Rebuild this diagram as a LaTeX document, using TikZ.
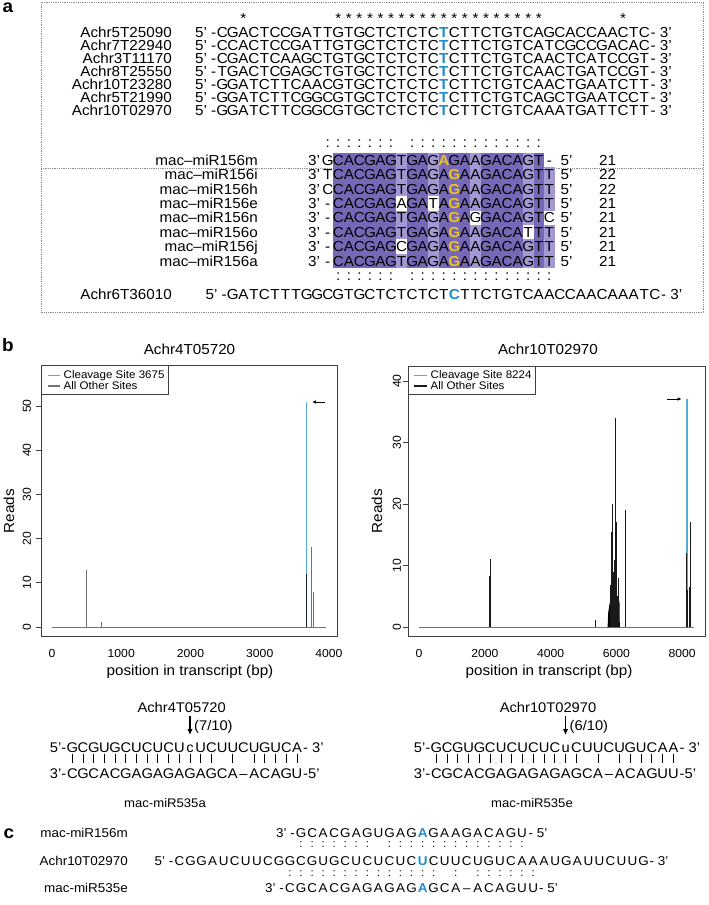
\documentclass[tikz,border=0pt]{standalone}
\usepackage{fontspec}
\setmainfont{Liberation Sans}[FakeStretch=1.05]
\usetikzlibrary{arrows.meta}
\definecolor{pdark}{RGB}{119,103,183}
\definecolor{plight}{RGB}{163,152,212}
\definecolor{ylw}{RGB}{238,194,30}
\definecolor{tblue}{RGB}{30,140,200}
\definecolor{cleave}{RGB}{85,170,210}
\newcommand\fs[1]{\fontsize{#1}{#1}\selectfont}
\newcommand\B[1]{\textcolor{tblue}{\textbf{#1}}}
\newcommand\Y[1]{\textcolor{ylw}{\textbf{#1}}}
\makeatletter
\newcount\sq@i
\def\sq@end{\sq@end}
\def\sq@dot{.}
\newcommand\seqrow[5][]{\def\sq@style{#1}\def\sq@x{#2}\def\sq@y{#3}\def\sq@p{#4}\sq@i=0 \sq@scan#5\sq@end}
\def\sq@scan#1{\ifx\sq@end#1\else\sq@put{#1}\advance\sq@i by 1 \expandafter\sq@scan\fi}
\def\sq@put#1{\def\sq@tmp{#1}\ifx\sq@tmp\sq@dot\else
  \node[sq,\sq@style] at ({\sq@x+(\the\sq@i+0.5)*\sq@p},\sq@y) {#1};\fi}
\makeatother
\tikzset{
  sq/.style={inner sep=0pt, anchor=base, font=\fs{14.5}},
  lab/.style={inner sep=0pt, font=\fs{14.5}},
  labc/.style={inner sep=0pt, font=\fs{12.8}},
  sqc/.style={font=\fs{12.8}},
  colc/.style={font=\fs{11}},
  sqb/.style={font=\fs{14}},
  labb/.style={inner sep=0pt, font=\fs{14}},
  plabel/.style={inner sep=0pt, font=\fs{18}\bfseries},
  dotbox/.style={draw=black!45, line width=0.6pt, dash pattern=on 0.9pt off 0.9pt},
  frame/.style={draw=black!75, line width=0.8pt},
  ticklab/.style={inner sep=0pt, font=\fs{11.6}},
  leg/.style={inner sep=0pt, font=\fs{11}, anchor=west},
  othersL/.style={draw=black!55, line width=0.8pt},
  othersR/.style={draw=black!90, line width=0.8pt},
  cleaveline/.style={draw=cleave, line width=1.1pt},
  pair/.style={line width=1pt},
}
\begin{document}
\begin{tikzpicture}[x=1pt,y=-1pt]
\useasboundingbox (0,0) rectangle (709,905);
\fill[white] (0,0) rectangle (709,905);

% ================= panel a =================
\node[plabel] (la) at (8,8) {a};
\draw[dotbox] (41,2) rectangle (703,312);
\draw[dotbox] (41,168) -- (703,168);

% highlight block
\fill[pdark] (333.05,153) rectangle (544.05,167.4);
\fill[pdark] (333.05,167.4) rectangle (554.6,268.2);
\foreach \c in {17,20,24,29} \fill[plight] ({217+10.55*\c},153) rectangle ++(10.55,115.2);
\fill[plight] (544.05,167.4) rectangle (554.6,268.2);
\foreach \c/\k in {17/3,20/3,24/4,31/4,29/5,17/6}
  \fill[white] ({217+10.55*\c},{153+14.4*\k}) rectangle ++(10.55,14.4);

% conservation stars
\seqrow{217}{23}{10.55}{..*........********************.......*}

% target rows
\foreach \n/\k in {Achr5T25090/0,Achr7T22940/1,Achr3T11170/2,Achr8T25550/3,Achr10T23280/4,Achr5T21990/5,Achr10T02970/6}{
  \node[lab, anchor=base east] (t\k) at (172,{37.7+12.9*\k}) {\n};
  \node[lab, anchor=base east] at (216.5,{37.7+12.9*\k}) {5' -};
  \node[lab, anchor=base west] at (650.5,{37.7+12.9*\k}) {- 3'};
}
\seqrow{217}{37.7}{10.55}{CGACTCCGATT GTGCTCTCTC {\B T} CTTCTGTCA GCACCAACTC}
\seqrow{217}{50.6}{10.55}{CCACTCCGATT GTGCTCTCTC {\B T} CTTCTGTCA TCGCCGACAC}
\seqrow{217}{63.5}{10.55}{CGACTCAAGCT GTGCTCTCTC {\B T} CTTCTGTCA ACTCATCCGT}
\seqrow{217}{76.4}{10.55}{TGACTCGAGCT GTGCTCTCTC {\B T} CTTCTGTCA ACTGATCCGT}
\seqrow{217}{89.3}{10.55}{GGATCTTCAAC GTGCTCTCTC {\B T} CTTCTGTCA ACTGAATCTT}
\seqrow{217}{102.2}{10.55}{GGATCTTCGGC GTGCTCTCTC {\B T} CTTCTGTCA GCTGAATCCT}
\seqrow{217}{115.1}{10.55}{GGATCTTCGGC GTGCTCTCTC {\B T} CTTCTGTCA AATGATTCTT}

% pairing colons
\seqrow{217}{147}{10.55}{.......... ::::::: . :::::::::::::}

% miRNA rows
\foreach \n/\len/\k in {m/21/0,i/22/1,h/22/2,e/21/3,n/21/4,o/21/5,j/21/6,a/21/7}{
  \node[lab, anchor=base east] (mi\k) at (258,{165.3+14.4*\k}) {mac–miR156\n};
  \node[lab, anchor=base] at (314,{165.3+14.4*\k}) {3'};
  \node[lab, anchor=base] at (566.5,{165.3+14.4*\k}) {5'};
  \node[lab, anchor=base] at (607.5,{165.3+14.4*\k}) {\len};
}
\seqrow{322.5}{165.3}{10.55}{G CACGAGTGAG {\Y A} GAAGACAGT -}
\seqrow{322.5}{179.7}{10.55}{T CACGAGTGAGA {\Y G} AAGACAGTT}
\seqrow{322.5}{194.1}{10.55}{C CACGAGTGAGA {\Y G} AAGACAGTT}
\seqrow{322.5}{208.5}{10.55}{- CACGAGAGATA {\Y G} AAGACAGTT}
\seqrow{322.5}{222.9}{10.55}{- CACGAGTGAGA {\Y G} AGGACAGTC}
\seqrow{322.5}{237.3}{10.55}{- CACGAGTGAGA {\Y G} AAGACATTT}
\seqrow{322.5}{251.7}{10.55}{- CACGAGCGAGA {\Y G} AAGACAGTT}
\seqrow{322.5}{266.1}{10.55}{- CACGAGTGAGA {\Y G} AAGACAGTT}

\seqrow{217}{280}{10.55}{........... :::::: . ::::::::::::::}
\node[lab, anchor=base east] (t6b) at (172,299) {Achr6T36010};
\node[lab, anchor=base east] at (227,299) {5' -};
\seqrow{227.55}{299}{10.55}{GATCTTTGGC GTGCTCTCTCT {\B C} TTCTGTCAACCAACAAATC}
\node[lab, anchor=base west] at (661,299) {- 3'};

% ================= panel b =================
\node[plabel] (lb) at (8,345) {b};

% ---- left plot ----
\node[lab] (titL) at (189.5,349) {Achr4T05720};
\draw[frame] (41,365) rectangle (337,636);
\foreach \r in {0,10,...,50}{
  \draw[frame] (41,{627-4.42*\r}) -- ++(-5,0);
  \node[ticklab, rotate=90] at (27,{627-4.42*\r}) {\r};
}
\foreach \p in {0,1000,...,4000}
  \node[ticklab] at ({52+0.06925*\p},653) {\p};
\node[lab, rotate=90] (readsL) at (9,511) {Reads};
\node[lab] (xlabL) at (190,672) {position in transcript (bp)};
\draw[frame, line width=0.6pt] (41,365) rectangle (168,394);
\draw[cleaveline, line width=1.2pt] (48,375.7) -- (60,375.7);
\draw[othersL, line width=1.2pt] (48,386) -- (60,386);
\node[leg] (legL1) at (63.5,375.7) {Cleavage Site 3675};
\node[leg] (legL2) at (63.5,386) {All Other Sites};
\draw[othersL] (52,627) -- (326,627);
\draw[othersL] (86,627) -- ++(0,{-4.42*13});
\draw[othersL] (101,627) -- ++(0,-5);
\draw[cleaveline] (306.9,627) -- ++(0,{-4.42*51});
\draw[draw=black!80!cleave, line width=0.8pt] (306,627) -- ++(0,{-4.42*12});
\draw[othersL] (311.7,627) -- ++(0,{-4.42*18});
\draw[othersL] (313.4,627) -- ++(0,{-4.42*8});
\draw[-{Latex[length=4pt,width=3.5pt]}, line width=0.9pt] (325,402) -- (312,402);

% ---- right plot ----
\node[lab] (titR) at (548,349) {Achr10T02970};
\draw[frame] (408,366) rectangle (705,636);
\foreach \r in {0,10,...,40}{
  \draw[frame] (408,{627-6.15*\r}) -- ++(-5,0);
  \node[ticklab, rotate=90] at (397,{627-6.15*\r}) {\r};
}
\foreach \p in {0,2000,...,8000}
  \node[ticklab] at ({419+0.0329*\p},653) {\p};
\node[lab, rotate=90] (readsR) at (377,511) {Reads};
\node[lab] (xlabR) at (549,672) {position in transcript (bp)};
\draw[frame, line width=0.6pt] (408,366) rectangle (535,394);
\draw[cleaveline, line width=1.2pt] (414,375.7) -- (427,375.7);
\draw[othersR, line width=1.2pt] (414,386) -- (427,386);
\node[leg] (legR1) at (430.5,375.7) {Cleavage Site 8224};
\node[leg] (legR2) at (430.5,386) {All Other Sites};
\draw[othersL] (419,627) -- (694,627);
\draw[othersR] (489.8,627) -- ++(0,{-6.15*8.3});
\draw[othersR] (490.7,627) -- ++(0,{-6.15*11});
\draw[othersR] (595.7,627) -- ++(0,-7);
\fill[black] (607.6,627) -- (608.2,613) -- (609.5,604) -- (612,599) -- (618.5,597) -- (619.5,603) -- (619.8,627) -- cycle;
\foreach \x/\r in {610/6.8,611.7/15.4,612.3/20,613.3/9,614/10.9,615/21,615.7/34,616.7/17,617.3/5,618.3/8}
  \draw[othersR] (\x,627) -- ++(0,{-6.15*\r});
\draw[othersR] (625,627) -- ++(0,{-6.15*19});
\draw[cleaveline] (687,627) -- ++(0,{-6.15*37});
\draw[othersR] (686,627) -- ++(0,{-6.15*12});
\draw[othersR] (687.8,627) -- ++(0,{-6.15*6});
\draw[othersR] (689.4,627) -- ++(0,{-6.15*6.5});
\draw[othersR] (690.2,627) -- ++(0,{-6.15*17});
\draw[-{Latex[length=4pt,width=3.5pt]}, line width=0.9pt] (666.7,399) -- (681.7,399);

% ---- duplex left ----
\node[labb] (dL) at (181.7,707) {Achr4T05720};
\draw[-{Latex[length=6pt,width=5.5pt]}, line width=1.6pt] (190,716) -- (190,735);
\node[labb, anchor=west] (fracL) at (194,727) {(7/10)};
\node[labb, anchor=base east] at (66.5,752) {5'-};
\seqrow[sqb]{67}{752}{10.7}{GCGUGCUCUCU c UCUUCUGUCA}
\node[labb, anchor=base west] at (303,752) {- 3'};
\foreach \c in {0,...,13,15,17,18,19,20,21}
  \draw[pair] ({67+10.7*(\c+0.5)},753.5) -- ++(0,9);
\node[labb, anchor=base east] at (66.5,778) {3'-};
\seqrow[sqb]{67}{778}{10.7}{CGCACGAGAGAGAGCA – ACAGU}
\node[labb, anchor=base west] at (303,778) {-5'};
\node[labb, font=\fs{12.5}] (mL) at (165,803) {mac-miR535a};

% ---- duplex right ----
\node[labb] (dR) at (548,707) {Achr10T02970};
\draw[-{Latex[length=6pt,width=5.5pt]}, line width=1.6pt] (565.5,716) -- (565.5,735);
\node[labb, anchor=west] (fracR) at (569.5,727) {(6/10)};
\node[labb, anchor=base east] at (430.5,752) {5'-};
\seqrow[sqb]{431}{752}{10.78}{GCGUGCUCUCUC u CUUCUGUCAA}
\node[labb, anchor=base west] at (679.5,752) {- 3'};
\foreach \c in {0,...,13,15,17,18,19,20,21,22}
  \draw[pair] ({431+10.78*(\c+0.5)},753.5) -- ++(0,9);
\node[labb, anchor=base east] at (430.5,778) {3'-};
\seqrow[sqb]{431}{778}{10.78}{CGCACGAGAGAGAGCA – ACAGUU}
\node[labb, anchor=base west] at (679.5,778) {-5'};
\node[labb, font=\fs{12.5}] (mR) at (532,803) {mac-miR535e};

% ================= panel c =================
\node[plabel] (lc) at (9,834) {c};
\node[labc, anchor=base east] (c1) at (128,837) {mac-miR156m};
\node[labc, anchor=base east] (c2) at (128,865.5) {Achr10T02970};
\node[labc, anchor=base east] (c3) at (128,892.5) {mac-miR535e};
\node[labc, anchor=base east] at (295,837) {3' -};
\seqrow[sqc]{295.55}{837}{11.05}{GCACGAGUGAG {\B A} GAAGACAGU}
\node[labc, anchor=base west] at (528.5,837) {- 5'};
\seqrow[colc]{174}{847.5}{11.05}{........... ::::::: . :::::::::::::}
\node[labc, anchor=base east] at (173.5,865.5) {5' -};
\seqrow[sqc]{174}{865.5}{11.05}{CGGAUCUUCGGC GUGCUCUCUC {\B U} CUUCUGUCA AAUGAUUCUUG}
\node[labc, anchor=base west] at (649.5,865.5) {- 3'};
\seqrow[colc]{174}{876.5}{11.05}{.......... :::::::::::::: . : . ::::::}
\node[labc, anchor=base east] at (284,892.5) {3' -};
\seqrow[sqc]{284.5}{892.5}{11.05}{CGCACGAGAGAG {\B A} GCA – ACAGUU}
\node[labc, anchor=base west] at (539,892.5) {- 5'};
\end{tikzpicture}
\end{document}
